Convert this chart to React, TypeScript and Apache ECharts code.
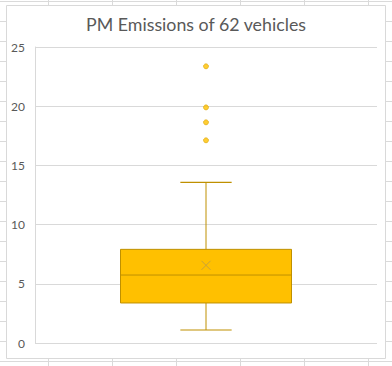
import React, { useEffect, useRef } from "react";
import * as echarts from "echarts";

const categories = ["PM"];
// [min whisker, Q1, median, Q3, max whisker]
const boxStats = [1.1, 3.38, 5.74, 7.91, 13.57];
const meanValue = 6.56;
const outliers = [17.12, 18.64, 19.9, 23.37];
const yMin = 0;
const yMax = 25;
const yInterval = 5;

const title = "PM Emissions of 62 vehicles";

const GOLD = "#FFC000";
const GOLD_DARK = "#BF9000";
const GRID = "#d9d9d9";
const SHEET = "#dadada";
const TEXT = "#595959";

export default function App() {
  const ref = useRef<HTMLDivElement>(null);
  useEffect(() => {
    if (!ref.current) return;
    const chart = echarts.init(ref.current, null, { renderer: "svg" });

    // spreadsheet cell lines behind the chart area
    const sheet: any[] = [];
    for (let k = 0; k <= 18; k++) {
      const y = 1.5 + 20 * k;
      sheet.push({ type: "line", z: -20, shape: { x1: 0, y1: y, x2: 392, y2: y }, style: { stroke: SHEET, lineWidth: 1 } });
    }
    for (let k = 0; k < 6; k++) {
      const x = 48.5 + 64 * k;
      sheet.push({ type: "line", z: -20, shape: { x1: x, y1: 0, x2: x, y2: 366 }, style: { stroke: SHEET, lineWidth: 1 } });
    }
    sheet.push({
      type: "rect",
      z: -10,
      shape: { x: 6.5, y: 5.5, width: 379, height: 353 },
      style: { fill: "#ffffff", stroke: GRID, lineWidth: 1 },
    });

    chart.setOption({
      animation: false,
      backgroundColor: "#ffffff",
      textStyle: { fontFamily: "Lato" },
      title: {
        text: title,
        left: "center",
        top: 10,
        textStyle: { fontFamily: "Lato", fontSize: 17.8, fontWeight: "normal", color: TEXT },
      },
      graphic: sheet,
      grid: { left: 35, right: 15, top: 47, bottom: 23, containLabel: false },
      xAxis: {
        type: "category",
        data: categories,
        axisLine: { show: false },
        axisTick: { show: false },
        axisLabel: { show: false },
        splitLine: { show: false },
      },
      yAxis: {
        type: "value",
        min: yMin,
        max: yMax,
        interval: yInterval,
        axisLine: { show: true, lineStyle: { color: GRID, width: 1 } },
        axisTick: { show: false },
        axisLabel: { color: TEXT, fontSize: 12, fontFamily: "Lato", margin: 10 },
        splitLine: { show: true, lineStyle: { color: GRID, width: 1 } },
      },
      series: [
        {
          type: "custom",
          data: [[0, ...boxStats, meanValue]],
          renderItem: (params: any, api: any) => {
            const xi = api.value(0);
            const pMin = api.coord([xi, api.value(1)]);
            const pQ1 = api.coord([xi, api.value(2)]);
            const pMed = api.coord([xi, api.value(3)]);
            const pQ3 = api.coord([xi, api.value(4)]);
            const pMax = api.coord([xi, api.value(5)]);
            const pMean = api.coord([xi, api.value(6)]);
            const band = api.size([1, 0])[0];
            const cx = pMed[0];
            const half = band * 0.25;
            const capHalf = band * 0.075;
            const ls = { stroke: GOLD_DARK, lineWidth: 1 };
            const m = 4.5;
            return {
              type: "group",
              children: [
                { type: "line", shape: { x1: cx, y1: pQ3[1], x2: cx, y2: pMax[1] }, style: ls },
                { type: "line", shape: { x1: cx, y1: pQ1[1], x2: cx, y2: pMin[1] }, style: ls },
                { type: "line", shape: { x1: cx - capHalf, y1: pMax[1], x2: cx + capHalf, y2: pMax[1] }, style: { stroke: GOLD_DARK, lineWidth: 1.2 } },
                { type: "line", shape: { x1: cx - capHalf, y1: pMin[1], x2: cx + capHalf, y2: pMin[1] }, style: { stroke: GOLD_DARK, lineWidth: 1.2 } },
                {
                  type: "rect",
                  shape: { x: cx - half, y: pQ3[1], width: half * 2, height: pQ1[1] - pQ3[1] },
                  style: { fill: GOLD, stroke: GOLD_DARK, lineWidth: 1 },
                },
                { type: "line", shape: { x1: cx - half, y1: pMed[1], x2: cx + half, y2: pMed[1] }, style: ls },
                { type: "line", shape: { x1: cx - m, y1: pMean[1] - m, x2: cx + m, y2: pMean[1] + m }, style: { stroke: "#c8a23c", lineWidth: 1 } },
                { type: "line", shape: { x1: cx - m, y1: pMean[1] + m, x2: cx + m, y2: pMean[1] - m }, style: { stroke: "#c8a23c", lineWidth: 1 } },
              ],
            };
          },
          z: 3,
        },
        {
          type: "scatter",
          data: outliers.map((v) => [0, v]),
          symbol: "circle",
          symbolSize: 5,
          itemStyle: { color: GOLD, borderColor: "#d9a400", borderWidth: 0.8 },
          z: 4,
        },
      ],
    });
    return () => chart.dispose();
  }, []);
  return (
    <div
      ref={ref}
      style={{ position: "absolute", left: 0, top: 0, width: 392, height: 366 }}
    />
  );
}
